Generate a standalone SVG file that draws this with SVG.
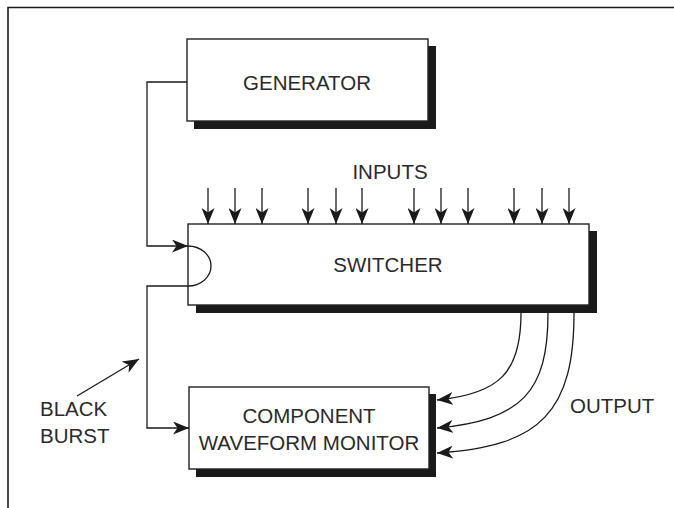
<svg xmlns="http://www.w3.org/2000/svg" width="674" height="508" viewBox="0 0 674 508">
<style>
.box{fill:#fff;stroke:#222;stroke-width:1.4}
.shadow{fill:#1a1a1a}
.lbl{font-family:"Liberation Sans",Arial,Helvetica,sans-serif;font-size:20.5px;fill:#2a2a2a}
.ln{fill:none;stroke:#1a1a1a;stroke-width:1.3}
</style>
<defs>
<marker id="ah" viewBox="0 0 16 13" refX="16" refY="6.5" markerWidth="16" markerHeight="13" markerUnits="userSpaceOnUse" orient="auto">
<path d="M0,0 L16,6.5 L0,13 L4.5,6.5 Z" fill="#1a1a1a"/>
</marker>
</defs>
<rect width="674" height="508" fill="#fff"/>
<path d="M8,508 V7.5 H674" fill="none" stroke="#1a1a1a" stroke-width="1.6"/>

<g id="generator">
<rect class="shadow" x="194" y="46" width="242" height="83"/>
<rect class="box" x="187" y="39" width="241" height="82"/>
<text class="lbl" x="307" y="90" text-anchor="middle">GENERATOR</text>
</g>

<g id="switcher">
<rect class="shadow" x="196" y="231" width="401" height="82"/>
<rect class="box" x="188" y="224" width="401" height="81"/>
<text class="lbl" x="388" y="272" text-anchor="middle">SWITCHER</text>
</g>

<g id="monitor">
<rect class="shadow" x="196" y="394" width="240" height="83"/>
<rect class="box" x="189" y="387" width="240" height="82"/>
<text class="lbl" x="309" y="423" text-anchor="middle">COMPONENT</text>
<text class="lbl" x="309" y="450" text-anchor="middle">WAVEFORM MONITOR</text>
</g>

<g id="labels">
<text class="lbl" x="390" y="179" text-anchor="middle">INPUTS</text>
<text class="lbl" x="40" y="416">BLACK</text>
<text class="lbl" x="40" y="443">BURST</text>
<text class="lbl" x="570" y="413">OUTPUT</text>
</g>

<g id="connectors">
<path class="ln" d="M187,82 H147 V246 H188" marker-end="url(#ah)"/>
<path class="ln" d="M188,246 A23,20 0 0 1 188,286 H147 V428 H189" marker-end="url(#ah)"/>
<path class="ln" d="M77,396 L139,359" marker-end="url(#ah)"/>
<g>
<path class="ln" d="M208,188 V224" marker-end="url(#ah)"/>
<path class="ln" d="M235,188 V224" marker-end="url(#ah)"/>
<path class="ln" d="M262,188 V224" marker-end="url(#ah)"/>
<path class="ln" d="M308,188 V224" marker-end="url(#ah)"/>
<path class="ln" d="M336,188 V224" marker-end="url(#ah)"/>
<path class="ln" d="M362,188 V224" marker-end="url(#ah)"/>
<path class="ln" d="M414,188 V224" marker-end="url(#ah)"/>
<path class="ln" d="M441,188 V224" marker-end="url(#ah)"/>
<path class="ln" d="M468,188 V224" marker-end="url(#ah)"/>
<path class="ln" d="M514,188 V224" marker-end="url(#ah)"/>
<path class="ln" d="M542,188 V224" marker-end="url(#ah)"/>
<path class="ln" d="M569,188 V224" marker-end="url(#ah)"/>
</g>
<path class="ln" d="M521,313 C521,372 500,394 437,400" marker-end="url(#ah)"/>
<path class="ln" d="M548,313 C548,392 522,420 437,428" marker-end="url(#ah)"/>
<path class="ln" d="M574,313 C574,410 542,447 437,453" marker-end="url(#ah)"/>
</g>
</svg>
